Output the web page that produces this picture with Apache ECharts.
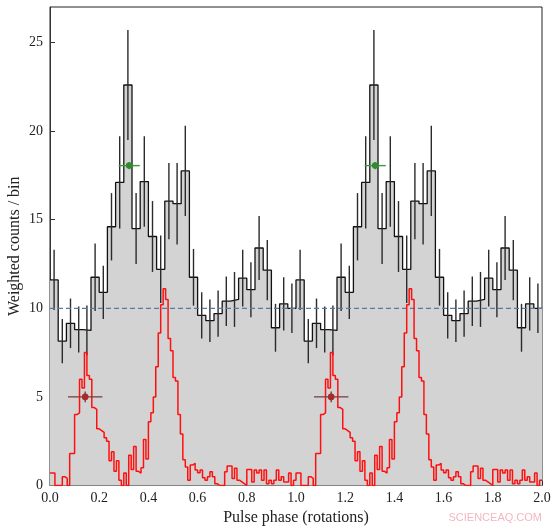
<!DOCTYPE html>
<html>
<head>
<meta charset="utf-8">
<script src="https://cdn.jsdelivr.net/npm/echarts@6/dist/echarts.min.js"></script>
<style>html,body{margin:0;padding:0;background:#fff}#c{width:559px;height:531px}</style>
</head>
<body>
<div id="c"></div>
<script>
// Black (gray-filled) histogram: 30 bins per rotation, shown for two rotations
var binCounts = [11.6, 8.15, 9.15, 8.8, 8.75, 11.75, 10.9, 14.6, 17.1, 22.6,
                 14.5, 17.15, 14.05, 12.2, 16.05, 15.9, 17.75, 11.75, 9.6, 9.3,
                 9.7, 10.4, 10.5, 11.7, 11.05, 13.4, 12.15, 8.9, 10.25, 10.0];
var binErrors = [1.7, 1.25, 1.4, 1.3, 1.4, 1.9, 1.5, 1.9, 2.6, 3.1,
                 2.0, 2.55, 2.0, 1.9, 2.15, 2.3, 2.55, 1.6, 1.3, 1.2,
                 1.3, 1.4, 1.55, 1.6, 1.55, 1.8, 1.7, 1.35, 1.5, 1.4];
// Red histogram: 100 bins per rotation
var redCounts = [0.7, 0.7, 0, 0, 0, 0.5, 0.4, 0, 1.8, 1.8,
                 4.0, 4.1, 6.0, 5.5, 7.5, 6.2, 6.0, 4.4, 4.3, 3.2,
                 3.1, 3.0, 2.7, 2.5, 1.4, 1.9, 0.8, 1.4, 0.3, 0,
                 0.7, 0, 1.7, 0.9, 2.2, 0.8, 0.7, 1.0, 2.6, 1.5,
                 3.6, 4.1, 5.0, 6.7, 8.6, 10.2, 11.1, 10.5, 8.3, 7.6,
                 6.1, 5.9, 4.0, 2.9, 1.45, 1.05, 0.3, 1.15, 1.25, 0.87,
                 0.72, 0.87, 0.44, 0.3, 0.5, 0.78, 0.5, 0.1, 0, 0,
                 0, 0.78, 1.1, 1.1, 0.4, 0.97, 0.3, 0.2, 0.1, 0,
                 0.9, 0.9, 0.2, 0.87, 0.7, 0.87, 0.3, 0.87, 0.1, 0.3,
                 0.1, 0.3, 0.87, 0.3, 0.5, 0.2, 0.2, 0.7, 0, 0.3];
var meanLevel = 10;
// Markers: [phase, value, xErr, yErr]
var greenPoints = [[0.322, 18.05, 0.043, 0.2], [1.322, 18.05, 0.043, 0.2]];
var redPoints = [[0.143, 5.0, 0.07, 0.3], [1.143, 5.0, 0.07, 0.3]];
var xTicks = [0, 0.2, 0.4, 0.6, 0.8, 1.0, 1.2, 1.4, 1.6, 1.8, 2.0];
var yTicks = [0, 5, 10, 15, 20, 25];

var nBlack = binCounts.length, nRed = redCounts.length;
var blackAll = binCounts.concat(binCounts);
var errAll = binErrors.concat(binErrors);
var redAll = redCounts.concat(redCounts);

var blackStep = blackAll.map(function (v, i) { return [i / nBlack, v]; });
blackStep.push([2, blackAll[blackAll.length - 1]]);
var redStep = redAll.map(function (v, i) { return [i / nRed, v]; });
redStep.push([2, redAll[redAll.length - 1]]);
var errData = blackAll.map(function (v, i) { return [(i + 0.5) / nBlack, v, errAll[i]]; });

var serif = 'Liberation Serif';
var chart = echarts.init(document.getElementById('c'), null, {renderer: 'canvas'});

function errRender(params, api) {
  var x = api.value(0), y = api.value(1), e = api.value(2);
  var a = api.coord([x, y - e]), b = api.coord([x, y + e]);
  return {type: 'line', shape: {x1: a[0], y1: a[1], x2: b[0], y2: b[1]},
          style: {stroke: '#2b2b2b', lineWidth: 1.4}};
}
function pointRender(color, lineColor) {
  return function (params, api) {
    var x = api.value(0), y = api.value(1), ex = api.value(2), ey = api.value(3);
    var l = api.coord([x - ex, y]), r = api.coord([x + ex, y]);
    var t = api.coord([x, y + ey]), bt = api.coord([x, y - ey]);
    var c = api.coord([x, y]);
    return {type: 'group', children: [
      {type: 'line', shape: {x1: l[0], y1: l[1], x2: r[0], y2: r[1]}, style: {stroke: lineColor, lineWidth: 1.4}},
      {type: 'line', shape: {x1: t[0], y1: t[1], x2: bt[0], y2: bt[1]}, style: {stroke: lineColor, lineWidth: 1.4}},
      {type: 'circle', shape: {cx: c[0], cy: c[1], r: 3.3}, style: {fill: color}}
    ]};
  };
}

chart.setOption({
  animation: false,
  grid: {left: 50, right: 17, top: 7, bottom: 45.5, show: true, borderColor: '#222', borderWidth: 1,
         backgroundColor: 'transparent', containLabel: false, outerBoundsMode: 'none'},
  xAxis: {
    type: 'value', min: xTicks[0], max: xTicks[xTicks.length - 1], interval: 0.2,
    name: 'Pulse phase (rotations)', nameLocation: 'middle', nameGap: 24, nameMoveOverlap: false,
    nameTextStyle: {fontFamily: serif, fontSize: 16, color: '#222'},
    axisLine: {lineStyle: {color: '#333', width: 1}},
    axisTick: {inside: true, length: 5, lineStyle: {color: '#333'}},
    axisLabel: {fontFamily: serif, fontSize: 14, color: '#222', margin: 6,
                formatter: function (v) { return v.toFixed(1); }},
    splitLine: {show: false}
  },
  yAxis: {
    type: 'value', min: yTicks[0], max: 27, interval: 5,
    name: 'Weighted counts / bin', nameLocation: 'middle', nameGap: 27, nameMoveOverlap: false,
    nameTextStyle: {fontFamily: serif, fontSize: 16, color: '#222'},
    axisLine: {show: true, lineStyle: {color: '#333', width: 1}},
    axisTick: {show: true, inside: true, length: 5, lineStyle: {color: '#333'}},
    axisLabel: {fontFamily: serif, fontSize: 14, color: '#222', margin: 7, showMaxLabel: false},
    splitLine: {show: false}
  },
  graphic: [{type: 'text', right: 17, top: 512,
             style: {text: 'SCIENCEAQ.COM', fontFamily: 'Liberation Sans', fontSize: 11, fill: '#f4b6c2'}}],
  series: [
    {type: 'line', data: blackStep, step: 'end', showSymbol: false, symbol: 'none',
     lineStyle: {color: '#111', width: 1.3}, areaStyle: {color: '#d3d3d3', opacity: 1}, z: 1},
    {type: 'custom', data: errData, renderItem: errRender, z: 2, silent: true},
    {type: 'line', data: [[0, meanLevel], [2, meanLevel]], showSymbol: false, symbol: 'none',
     lineStyle: {color: '#5a7aa6', width: 1.3, type: [5, 3]}, z: 3},
    {type: 'line', data: redStep, step: 'end', showSymbol: false, symbol: 'none',
     lineStyle: {color: '#ff1010', width: 1.5}, z: 4},
    {type: 'custom', data: greenPoints, renderItem: pointRender('#2e8b2e', '#3a9a3a'), z: 5, silent: true},
    {type: 'custom', data: redPoints, renderItem: pointRender('#a52a2a', '#7a3a3a'), z: 5, silent: true}
  ]
});
</script>
</body>
</html>
